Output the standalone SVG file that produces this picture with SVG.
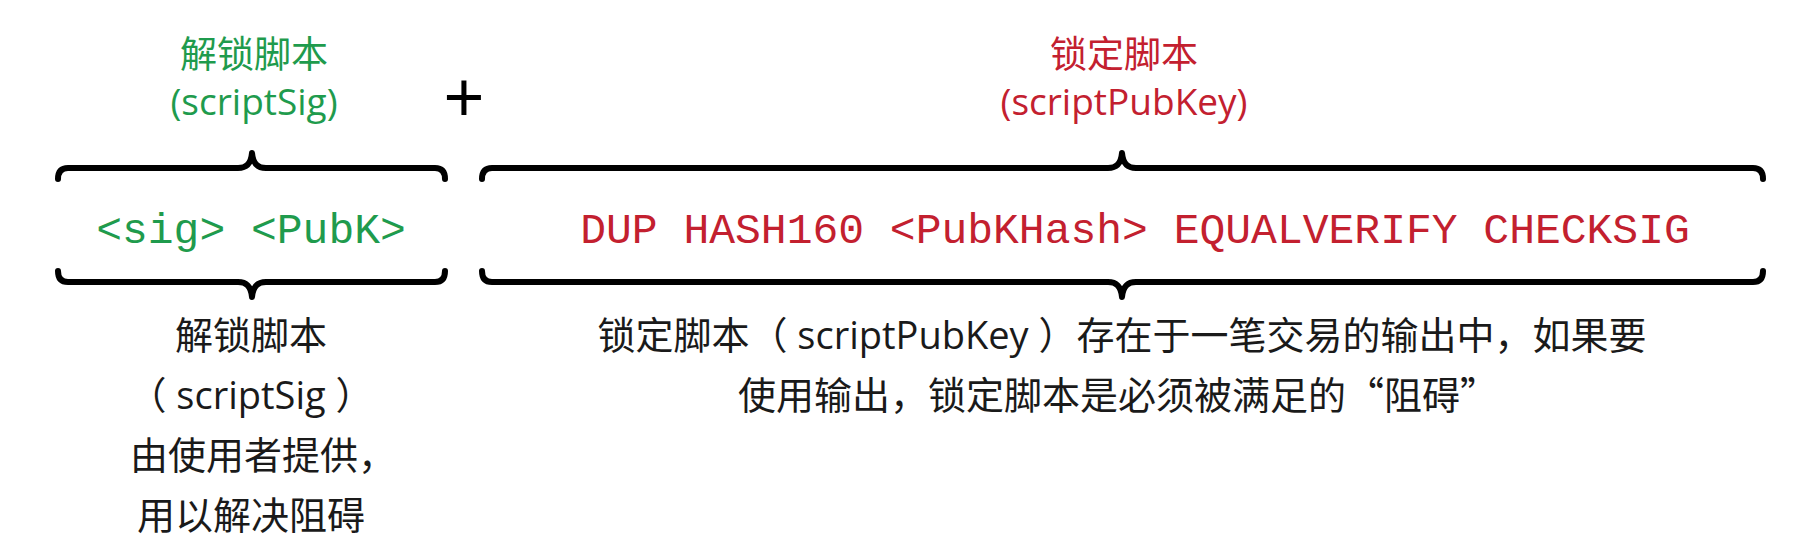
<svg xmlns="http://www.w3.org/2000/svg" width="1811" height="558" viewBox="0 0 1811 558">
  <style>
    .cjk { font-family: "Open Sans", "Noto Sans CJK SC", sans-serif; }
    .cjkonly { font-family: "Noto Sans CJK SC", sans-serif; }
    .title { font-size: 37px; text-anchor: middle; font-weight: normal; }
    .green { fill: #1f9b4d; }
    .red { fill: #c3202f; }
    .code { font-family: "Liberation Mono", "DejaVu Sans Mono", monospace; font-size: 43px; text-anchor: middle; }
    .desc { font-size: 38px; fill: #1a1a1a; text-anchor: middle; }
    .brace { fill: none; stroke: #000; stroke-width: 6; stroke-linecap: round; stroke-linejoin: round; }
  </style>
  <rect width="1811" height="558" fill="#ffffff"/>

  <g id="unlock-script">
    <text class="cjk title green" x="254" y="68">解锁脚本</text>
    <text class="cjk title green" x="254" y="115">(scriptSig)</text>
    <text class="code green" x="251" y="243">&lt;sig&gt; &lt;PubK&gt;</text>
  </g>

  <g id="plus">
    <text x="464" y="121" font-family="Liberation Sans, sans-serif" font-size="70" text-anchor="middle" fill="#000">+</text>
  </g>

  <g id="lock-script">
    <text class="cjk title red" x="1124" y="68">锁定脚本</text>
    <text class="cjk title red" x="1124" y="115">(scriptPubKey)</text>
    <text class="code red" x="1135" y="243">DUP HASH160 &lt;PubKHash&gt; EQUALVERIFY CHECKSIG</text>
  </g>

  <g id="unlock-desc">
    <text class="cjk desc" x="251" y="349">解锁脚本</text>
    <text class="cjk desc" x="251" y="409">（ scriptSig ）</text>
    <text class="cjk desc" x="263" y="469">由使用者提供，</text>
    <text class="cjk desc" x="251" y="529">用以解决阻碍</text>
  </g>

  <g id="lock-desc">
    <text class="cjk desc" x="1122" y="349">锁定脚本（ scriptPubKey ）存在于一笔交易的输出中，如果要</text>
    <text class="cjk desc" x="1118" y="409">使用输出，锁定脚本是必须被满足的<tspan class="cjkonly">“阻碍”</tspan></text>
  </g>

  <g id="connectors">
    <path class="brace" d="M58,179 C58,172 61,168 68,168 L238,168 C246,168 251,164 252,153 C253,164 258,168 266,168 L435,168 C442,168 445,172 445,179"/>
    <path class="brace" d="M58,271 C58,278 61,282 68,282 L238,282 C246,282 251,286 252,297 C253,286 258,282 266,282 L435,282 C442,282 445,278 445,271"/>
    <path class="brace" d="M482,179 C482,172 485,168 492,168 L1108,168 C1116,168 1121,164 1122,153 C1123,164 1128,168 1136,168 L1753,168 C1760,168 1763,172 1763,179"/>
    <path class="brace" d="M482,271 C482,278 485,282 492,282 L1108,282 C1116,282 1121,286 1122,297 C1123,286 1128,282 1136,282 L1753,282 C1760,282 1763,278 1763,271"/>
  </g>
</svg>
